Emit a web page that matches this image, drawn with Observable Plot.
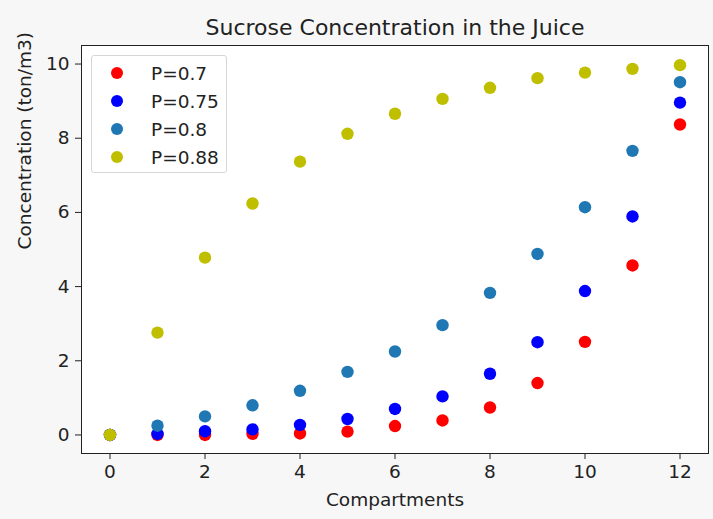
<!DOCTYPE html>
<html>
<head>
<meta charset="utf-8">
<script src="https://cdn.jsdelivr.net/npm/d3@7"></script>
<script src="https://cdn.jsdelivr.net/npm/@observablehq/plot@0.6"></script>
<style>
  html, body { margin: 0; padding: 0; background: #f7f7f7; }
  #wrap { position: relative; width: 713px; height: 519px; background: #f7f7f7; font-family: "DejaVu Sans", sans-serif; }
  #legend { position: absolute; left: 91px; top: 55px; width: 136px; height: 118px; background: rgba(255,255,255,0.8); border: 1px solid #d6d6d6; border-radius: 3px; box-sizing: border-box; }
  .item { position: absolute; left: 0; height: 28px; display: flex; align-items: center; font-size: 18.5px; color: #222; }
  .sw { display: inline-block; width: 12px; height: 12px; border-radius: 50%; margin-left: 19px; margin-right: 28px; }
</style>
</head>
<body>
<div id="wrap"></div>
<script>
const title = "Sucrose Concentration in the Juice";
const xLabel = "Compartments";
const yLabel = "Concentration (ton/m3)";
const compartments = [0, 1, 2, 3, 4, 5, 6, 7, 8, 9, 10, 11, 12];
const seriesNames = ["P=0.7", "P=0.75", "P=0.8", "P=0.88"];
const seriesColors = ["#ff0000", "#0000ff", "#1f77b4", "#bfbf00"];
const p070 = [0, 0.0, 0.0, 0.03, 0.04, 0.09, 0.24, 0.39, 0.74, 1.40, 2.51, 4.57, 8.37];
const p075 = [0, 0.03, 0.10, 0.15, 0.27, 0.43, 0.70, 1.04, 1.65, 2.50, 3.88, 5.89, 8.96];
const p080 = [0, 0.25, 0.50, 0.80, 1.19, 1.70, 2.25, 2.96, 3.83, 4.88, 6.14, 7.66, 9.51];
const p088 = [0, 2.76, 4.78, 6.24, 7.37, 8.12, 8.66, 9.06, 9.36, 9.62, 9.77, 9.87, 9.97];
const xTicks = [0, 2, 4, 6, 8, 10, 12];
const yTicks = [0, 2, 4, 6, 8, 10];

const seriesValues = [p070, p075, p080, p088];
const rows = [];
seriesValues.forEach((vals, s) => {
  vals.forEach((v, i) => rows.push({x: compartments[i], y: v, series: seriesNames[s]}));
});

const ink = "#222";
const chart = Plot.plot({
  width: 713,
  height: 519,
  marginLeft: 81,
  marginRight: 5,
  marginTop: 45,
  marginBottom: 66,
  style: {background: "transparent", fontFamily: "DejaVu Sans, sans-serif", fontSize: "18.5px", color: ink},
  x: {domain: [-0.6, 12.6]},
  y: {domain: [-0.5, 10.5]},
  color: {domain: seriesNames, range: seriesColors},
  marks: [
    Plot.frame({fill: "white", stroke: null}),
    Plot.axisX({ticks: xTicks, tickSize: 6, tickPadding: 5, label: null, stroke: ink, fill: ink, fontSize: 18.5}),
    Plot.axisY({ticks: yTicks, tickSize: 6, tickPadding: 6, label: null, stroke: ink, fill: ink, fontSize: 18.5}),
    Plot.dot(rows, {x: "x", y: "y", fill: "series", r: 6.2, stroke: null}),
    Plot.frame({stroke: ink, strokeWidth: 1}),
    Plot.text([title], {frameAnchor: "top", dy: -18, fontSize: 22, fill: ink, lineAnchor: "middle"}),
    Plot.text([xLabel], {frameAnchor: "bottom", dy: 47, fontSize: 18.5, fill: ink, lineAnchor: "middle"}),
    Plot.text([yLabel], {frameAnchor: "left", dx: -56, rotate: -90, fontSize: 18.5, fill: ink, lineAnchor: "middle"})
  ]
});

const wrap = document.getElementById("wrap");
wrap.appendChild(chart);
chart.style.position = "absolute";
chart.style.left = "0";
chart.style.top = "0";

const legend = document.createElement("div");
legend.id = "legend";
seriesNames.forEach((name, i) => {
  const item = document.createElement("div");
  item.className = "item";
  item.style.top = (3 + i * 28) + "px";
  const sw = document.createElement("span");
  sw.className = "sw";
  sw.style.background = seriesColors[i];
  item.appendChild(sw);
  item.appendChild(document.createTextNode(name));
  legend.appendChild(item);
});
wrap.appendChild(legend);
</script>
</body>
</html>
